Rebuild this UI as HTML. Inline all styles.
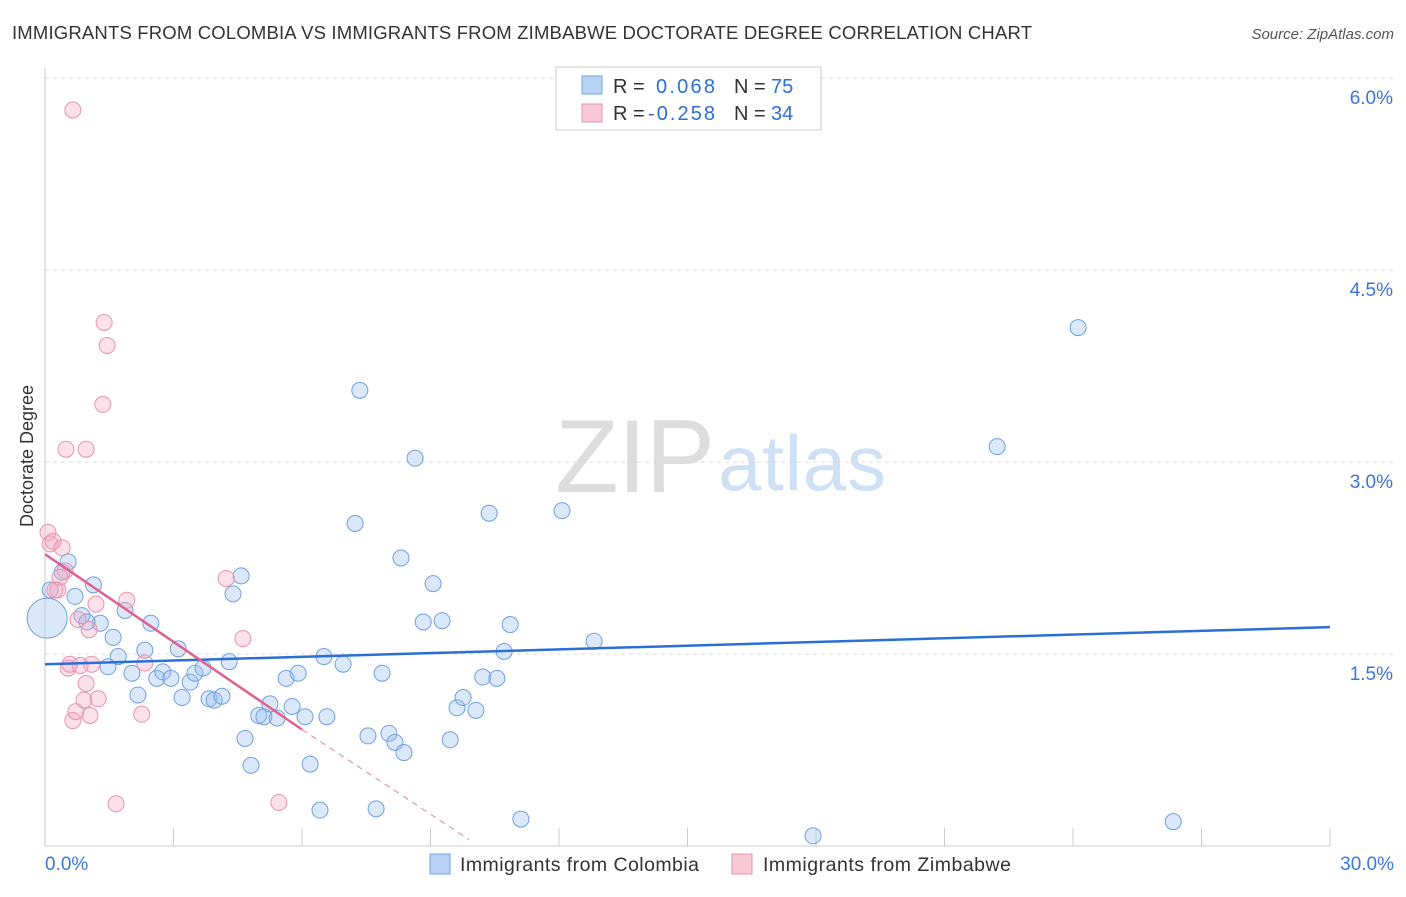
<!DOCTYPE html>
<html><head><meta charset="utf-8"><style>
body{margin:0;background:#fff;font-family:"Liberation Sans",sans-serif}
svg text{font-family:"Liberation Sans",sans-serif}
</style></head><body>
<svg id="c" width="1406" height="892" xmlns="http://www.w3.org/2000/svg">
<text x="12" y="39" font-size="18.5" fill="#333" textLength="1020">IMMIGRANTS FROM COLOMBIA VS IMMIGRANTS FROM ZIMBABWE DOCTORATE DEGREE CORRELATION CHART</text>
<text x="1394" y="39" font-size="15" fill="#555" font-style="italic" text-anchor="end">Source: ZipAtlas.com</text>
<text x="33" y="456" font-size="18" fill="#333" transform="rotate(-90 33 456)" text-anchor="middle">Doctorate Degree</text>
<g><text x="555" y="492" font-size="104" fill="#ddd" font-family="Liberation Serif" textLength="160">ZIP</text><text x="718" y="490" font-size="78" fill="#cfe0f4" textLength="168">atlas</text></g>
<g id="grid"></g><g id="marks"></g>
<g>
<rect x="556" y="67" width="265" height="63" fill="#fff" stroke="#ccc"/>
<rect x="582" y="76" width="20" height="18" fill="#b9d3f5" stroke="#6fa0e0"/>
<rect x="582" y="104" width="20" height="18" fill="#f9c9d8" stroke="#e892ad"/>
<text x="613" y="93" font-size="20" fill="#333">R =</text><text x="656" y="93" font-size="20" fill="#2a6fd6" textLength="59">0.068</text>
<text x="734" y="93" font-size="20" fill="#333">N =</text><text x="771" y="93" font-size="20" fill="#2a6fd6">75</text>
<text x="613" y="120" font-size="20" fill="#333">R =</text><text x="648" y="120" font-size="20" fill="#2a6fd6" textLength="67">-0.258</text>
<text x="734" y="120" font-size="20" fill="#333">N =</text><text x="771" y="120" font-size="20" fill="#2a6fd6">34</text>
</g>
<g>
<rect x="430" y="854" width="20" height="20" fill="#b9d3f5" stroke="#6fa0e0"/>
<text x="460" y="871" font-size="19.5" fill="#333" textLength="239">Immigrants from Colombia</text>
<rect x="732" y="854" width="20" height="20" fill="#f9c9d8" stroke="#e892ad"/>
<text x="763" y="871" font-size="19.5" fill="#333" textLength="248">Immigrants from Zimbabwe</text>
</g>
</svg>
<script>
const yTicks=[1.5,3.0,4.5,6.0];
const yTickLabels=["1.5%","3.0%","4.5%","6.0%"];
const colX=[0.05,0.12,0.4,0.54,0.7,0.86,1.13,1.29,0.98,1.47,1.59,1.71,1.87,2.03,2.17,2.33,2.47,2.61,2.75,2.94,3.11,3.2,3.39,3.5,3.69,3.83,3.95,4.13,4.3,4.39,4.58,4.67,4.81,4.99,5.11,5.25,5.42,5.63,5.77,5.91,6.07,6.19,6.42,6.51,6.58,6.96,7.24,7.35,7.54,7.73,7.87,8.03,8.17,8.31,8.38,8.64,8.83,9.06,9.27,9.46,9.62,9.76,10.06,10.22,10.37,10.55,10.72,10.86,11.11,12.07,12.82,17.93,24.12,26.34,22.23];
const colY=[1.78,2.0,2.14,2.22,1.95,1.8,2.04,1.74,1.75,1.4,1.63,1.48,1.84,1.35,1.18,1.53,1.74,1.31,1.36,1.31,1.54,1.16,1.28,1.35,1.39,1.15,1.14,1.17,1.44,1.97,2.11,0.84,0.63,1.02,1.01,1.11,1.0,1.31,1.09,1.35,1.01,0.64,0.28,1.48,1.01,1.42,2.52,3.56,0.86,0.29,1.35,0.88,0.81,2.25,0.73,3.03,1.75,2.05,1.76,0.83,1.08,1.16,1.06,1.32,2.6,1.31,1.52,1.73,0.21,2.62,1.6,0.08,4.05,0.19,3.12];
const zimX=[0.07,0.12,0.19,0.30,0.40,0.47,0.65,0.49,0.96,1.38,1.45,1.35,0.54,0.58,0.65,0.72,0.77,0.91,0.96,1.03,1.05,1.09,1.19,1.24,0.82,1.66,1.91,2.26,2.33,4.23,4.62,5.46,0.35,0.23];
const zimY=[2.45,2.36,2.38,2.0,2.33,2.15,5.75,3.1,3.1,4.09,3.91,3.45,1.39,1.42,0.98,1.05,1.77,1.14,1.27,1.69,1.02,1.42,1.89,1.15,1.41,0.33,1.92,1.03,1.43,2.09,1.62,0.34,2.1,2.0];
const colTrend=[1.42,1.71], zimTrend=[2.28,0.91,0.05];
const X0=45,X1=1330,Y0=846,PXY=128;
const sx=v=>X0+(X1-X0)*v/30, sy=v=>Y0-v*PXY;
const NS="http://www.w3.org/2000/svg";
function mk(t,a,p){const e=document.createElementNS(NS,t);for(const k in a)e.setAttribute(k,a[k]);p.appendChild(e);return e;}
const g=document.getElementById('grid'),m=document.getElementById('marks');
yTicks.forEach((t,i)=>{const l=mk('line',{x1:X0,x2:1394,y1:sy(t),y2:sy(t),stroke:'#ddd','stroke-dasharray':'4,4'},g);


const tx=mk('text',{x:1393,y:sy(t)+26,'font-size':19,fill:'#3a78d8','text-anchor':'end'},g);tx.textContent=yTickLabels[i];

});
mk('line',{x1:X0,x2:X0,y1:68,y2:Y0,stroke:'#ccc'},g);
mk('line',{x1:X0,x2:X1,y1:Y0,y2:Y0,stroke:'#ccc'},g);
for(let i=0;i<=10;i++){mk('line',{x1:sx(i*3),x2:sx(i*3),y1:Y0,y2:828,stroke:'#ccc'},g);}
const xl=mk('text',{x:45,y:870,'font-size':19,fill:'#3a78d8'},g);xl.textContent='0.0%';

const xr=mk('text',{x:1394,y:870,'font-size':19,fill:'#3a78d8','text-anchor':'end'},g);xr.textContent='30.0%';

colX.forEach((x,i)=>{const c=mk('circle',{cx:sx(x),cy:sy(colY[i]),r:i==0?20:8,fill:'rgba(150,190,240,0.35)',stroke:'#6fa0e0','stroke-width':1},m);

});
zimX.forEach((x,i)=>{const c=mk('circle',{cx:sx(x),cy:sy(zimY[i]),r:8,fill:'rgba(245,170,195,0.35)',stroke:'#e892ad','stroke-width':1},m);

});
const bl=mk('line',{x1:sx(0),y1:sy(colTrend[0]),x2:sx(30),y2:sy(colTrend[1]),stroke:'#2a6fd6','stroke-width':2.5},m);

const pl=mk('line',{x1:sx(0),y1:sy(zimTrend[0]),x2:sx(6),y2:sy(zimTrend[1]),stroke:'#e06090','stroke-width':2.5},m);

const pd=mk('line',{x1:sx(6),y1:sy(zimTrend[1]),x2:sx(9.9),y2:sy(zimTrend[2]),stroke:'#e892ad','stroke-width':1.2,'stroke-dasharray':'6,5'},m);

</script>
</body></html>
